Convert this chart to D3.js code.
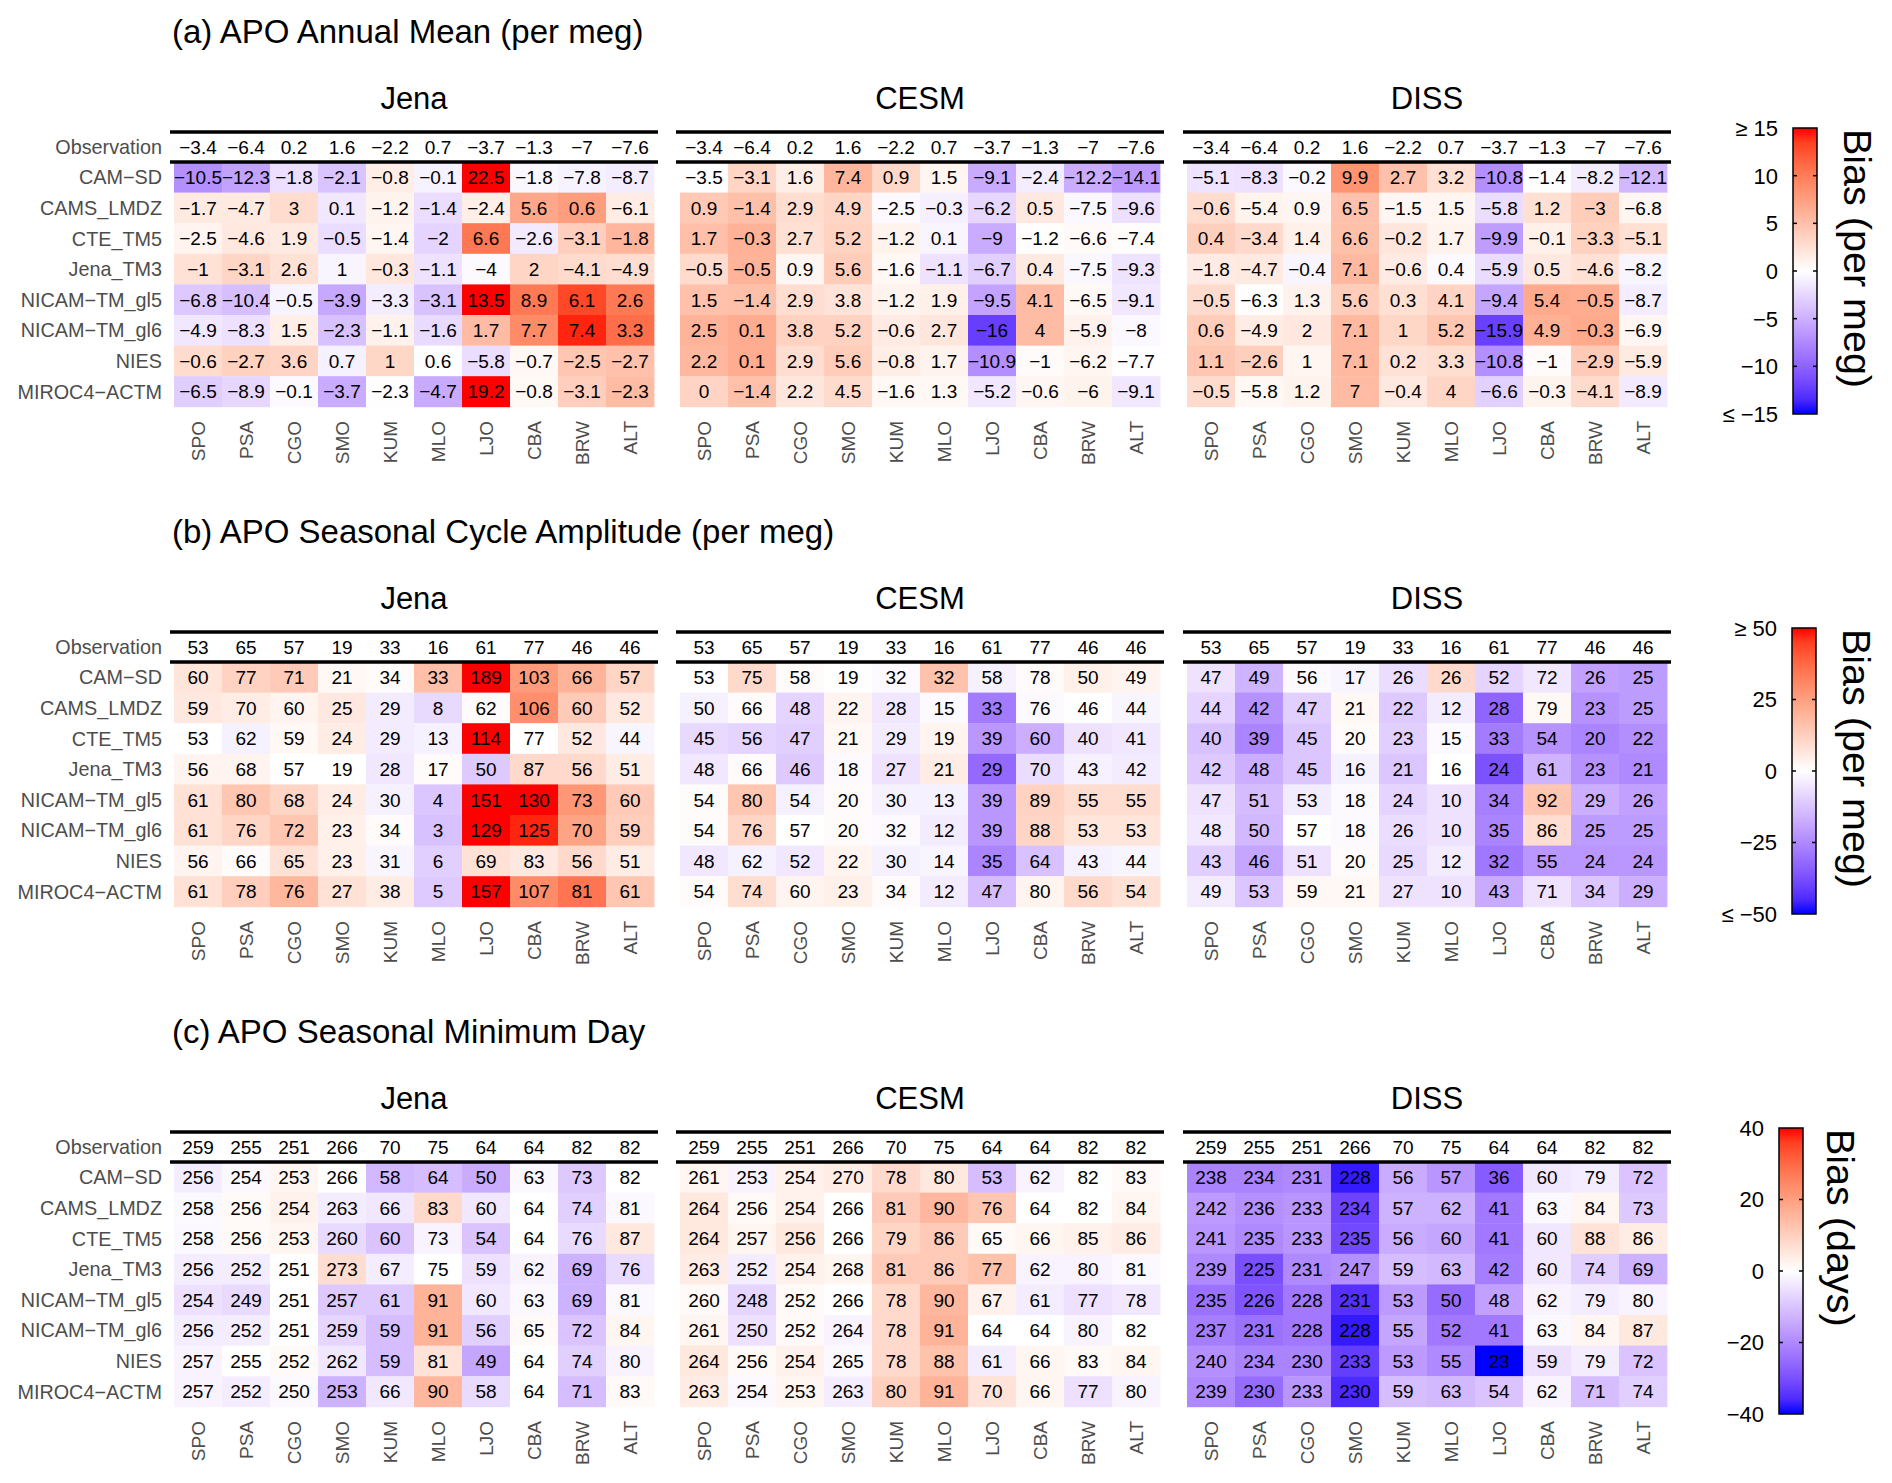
<!DOCTYPE html>
<html>
<head>
<meta charset="utf-8">
<script src="https://cdn.jsdelivr.net/npm/d3@7"></script>
<style>
  body { margin: 0; background: #fff; }
</style>
</head>
<body>
<svg id="chart"></svg>
<script>
// Stations, models and ocean-flux products
const stations = ["SPO", "PSA", "CGO", "SMO", "KUM", "MLO", "LJO", "CBA", "BRW", "ALT"];
const models = ["CAM-SD", "CAMS_LMDZ", "CTE_TM5", "Jena_TM3", "NICAM-TM_gl5", "NICAM-TM_gl6", "NIES", "MIROC4-ACTM"];
const oceans = ["Jena", "CESM", "DISS"];

// (a) APO annual mean (per meg)
const meanObs = [-3.4, -6.4, 0.2, 1.6, -2.2, 0.7, -3.7, -1.3, -7, -7.6];
const meanJena = [
  [-10.5, -12.3, -1.8, -2.1, -0.8, -0.1, 22.5, -1.8, -7.8, -8.7],
  [-1.7, -4.7, 3, 0.1, -1.2, -1.4, -2.4, 5.6, 0.6, -6.1],
  [-2.5, -4.6, 1.9, -0.5, -1.4, -2, 6.6, -2.6, -3.1, -1.8],
  [-1, -3.1, 2.6, 1, -0.3, -1.1, -4, 2, -4.1, -4.9],
  [-6.8, -10.4, -0.5, -3.9, -3.3, -3.1, 13.5, 8.9, 6.1, 2.6],
  [-4.9, -8.3, 1.5, -2.3, -1.1, -1.6, 1.7, 7.7, 7.4, 3.3],
  [-0.6, -2.7, 3.6, 0.7, 1, 0.6, -5.8, -0.7, -2.5, -2.7],
  [-6.5, -8.9, -0.1, -3.7, -2.3, -4.7, 19.2, -0.8, -3.1, -2.3]
];
const meanCESM = [
  [-3.5, -3.1, 1.6, 7.4, 0.9, 1.5, -9.1, -2.4, -12.2, -14.1],
  [0.9, -1.4, 2.9, 4.9, -2.5, -0.3, -6.2, 0.5, -7.5, -9.6],
  [1.7, -0.3, 2.7, 5.2, -1.2, 0.1, -9, -1.2, -6.6, -7.4],
  [-0.5, -0.5, 0.9, 5.6, -1.6, -1.1, -6.7, 0.4, -7.5, -9.3],
  [1.5, -1.4, 2.9, 3.8, -1.2, 1.9, -9.5, 4.1, -6.5, -9.1],
  [2.5, 0.1, 3.8, 5.2, -0.6, 2.7, -16, 4, -5.9, -8],
  [2.2, 0.1, 2.9, 5.6, -0.8, 1.7, -10.9, -1, -6.2, -7.7],
  [0, -1.4, 2.2, 4.5, -1.6, 1.3, -5.2, -0.6, -6, -9.1]
];
const meanDISS = [
  [-5.1, -8.3, -0.2, 9.9, 2.7, 3.2, -10.8, -1.4, -8.2, -12.1],
  [-0.6, -5.4, 0.9, 6.5, -1.5, 1.5, -5.8, 1.2, -3, -6.8],
  [0.4, -3.4, 1.4, 6.6, -0.2, 1.7, -9.9, -0.1, -3.3, -5.1],
  [-1.8, -4.7, -0.4, 7.1, -0.6, 0.4, -5.9, 0.5, -4.6, -8.2],
  [-0.5, -6.3, 1.3, 5.6, 0.3, 4.1, -9.4, 5.4, -0.5, -8.7],
  [0.6, -4.9, 2, 7.1, 1, 5.2, -15.9, 4.9, -0.3, -6.9],
  [1.1, -2.6, 1, 7.1, 0.2, 3.3, -10.8, -1, -2.9, -5.9],
  [-0.5, -5.8, 1.2, 7, -0.4, 4, -6.6, -0.3, -4.1, -8.9]
];

// (b) APO seasonal cycle amplitude (per meg)
const ampObs = [53, 65, 57, 19, 33, 16, 61, 77, 46, 46];
const ampJena = [
  [60, 77, 71, 21, 34, 33, 189, 103, 66, 57],
  [59, 70, 60, 25, 29, 8, 62, 106, 60, 52],
  [53, 62, 59, 24, 29, 13, 114, 77, 52, 44],
  [56, 68, 57, 19, 28, 17, 50, 87, 56, 51],
  [61, 80, 68, 24, 30, 4, 151, 130, 73, 60],
  [61, 76, 72, 23, 34, 3, 129, 125, 70, 59],
  [56, 66, 65, 23, 31, 6, 69, 83, 56, 51],
  [61, 78, 76, 27, 38, 5, 157, 107, 81, 61]
];
const ampCESM = [
  [53, 75, 58, 19, 32, 32, 58, 78, 50, 49],
  [50, 66, 48, 22, 28, 15, 33, 76, 46, 44],
  [45, 56, 47, 21, 29, 19, 39, 60, 40, 41],
  [48, 66, 46, 18, 27, 21, 29, 70, 43, 42],
  [54, 80, 54, 20, 30, 13, 39, 89, 55, 55],
  [54, 76, 57, 20, 32, 12, 39, 88, 53, 53],
  [48, 62, 52, 22, 30, 14, 35, 64, 43, 44],
  [54, 74, 60, 23, 34, 12, 47, 80, 56, 54]
];
const ampDISS = [
  [47, 49, 56, 17, 26, 26, 52, 72, 26, 25],
  [44, 42, 47, 21, 22, 12, 28, 79, 23, 25],
  [40, 39, 45, 20, 23, 15, 33, 54, 20, 22],
  [42, 48, 45, 16, 21, 16, 24, 61, 23, 21],
  [47, 51, 53, 18, 24, 10, 34, 92, 29, 26],
  [48, 50, 57, 18, 26, 10, 35, 86, 25, 25],
  [43, 46, 51, 20, 25, 12, 32, 55, 24, 24],
  [49, 53, 59, 21, 27, 10, 43, 71, 34, 29]
];

// (c) APO seasonal minimum day
const minDayObs = [259, 255, 251, 266, 70, 75, 64, 64, 82, 82];
const minDayJena = [
  [256, 254, 253, 266, 58, 64, 50, 63, 73, 82],
  [258, 256, 254, 263, 66, 83, 60, 64, 74, 81],
  [258, 256, 253, 260, 60, 73, 54, 64, 76, 87],
  [256, 252, 251, 273, 67, 75, 59, 62, 69, 76],
  [254, 249, 251, 257, 61, 91, 60, 63, 69, 81],
  [256, 252, 251, 259, 59, 91, 56, 65, 72, 84],
  [257, 255, 252, 262, 59, 81, 49, 64, 74, 80],
  [257, 252, 250, 253, 66, 90, 58, 64, 71, 83]
];
const minDayCESM = [
  [261, 253, 254, 270, 78, 80, 53, 62, 82, 83],
  [264, 256, 254, 266, 81, 90, 76, 64, 82, 84],
  [264, 257, 256, 266, 79, 86, 65, 66, 85, 86],
  [263, 252, 254, 268, 81, 86, 77, 62, 80, 81],
  [260, 248, 252, 266, 78, 90, 67, 61, 77, 78],
  [261, 250, 252, 264, 78, 91, 64, 64, 80, 82],
  [264, 256, 254, 265, 78, 88, 61, 66, 83, 84],
  [263, 254, 253, 263, 80, 91, 70, 66, 77, 80]
];
const minDayDISS = [
  [238, 234, 231, 228, 56, 57, 36, 60, 79, 72],
  [242, 236, 233, 234, 57, 62, 41, 63, 84, 73],
  [241, 235, 233, 235, 56, 60, 41, 60, 88, 86],
  [239, 225, 231, 247, 59, 63, 42, 60, 74, 69],
  [235, 226, 228, 231, 53, 50, 48, 62, 79, 80],
  [237, 231, 228, 228, 55, 52, 41, 63, 84, 87],
  [240, 234, 230, 233, 53, 55, 23, 59, 79, 72],
  [239, 230, 233, 230, 59, 63, 54, 62, 71, 74]
];

// Titles, colour limits and legend ticks
const titles = ["(a) APO Annual Mean (per meg)", "(b) APO Seasonal Cycle Amplitude (per meg)", "(c) APO Seasonal Minimum Day"];
const limits = [15, 50, 40];
const legendTitles = ["Bias (per meg)", "Bias (per meg)", "Bias (days)"];
const tickValues = [[15, 10, 5, 0, -5, -10, -15], [50, 25, 0, -25, -50], [40, 20, 0, -20, -40]];
const tickLabels = [["≥ 15", "10", "5", "0", "−5", "−10", "≤ −15"], ["≥ 50", "25", "0", "−25", "≤ −50"], ["40", "20", "0", "−20", "−40"]];

const panels = [
  { obs: meanObs, sets: [meanJena, meanCESM, meanDISS] },
  { obs: ampObs, sets: [ampJena, ampCESM, ampDISS] },
  { obs: minDayObs, sets: [minDayJena, minDayCESM, minDayDISS] }
];

// layout
const width = 1892;
const height = 1483;
const font = "'Liberation Sans', Arial, Helvetica, sans-serif";
const grey = "#4d4d4d";
const blockX = [174, 680, 1187];
const blockW = 480;
const firstTop = 132;
const panelStep = 500;
const obsH = 30;
const rowH = 30.6;
const barX = [1793, 1792, 1779];
const barW = 24;
const titleGap = [27, 27, 24];

const fmt = (v) => String(v).replace("-", "−");
const colorRamp = d3.piecewise(d3.interpolateLab, ["blue", "white", "red"]);

const svg = d3
  .select("#chart")
  .attr("width", width)
  .attr("height", height)
  .style("font-family", font);

svg.append("rect").attr("width", width).attr("height", height).attr("fill", "#fff");

const defs = svg.append("defs");

panels.forEach((panel, k) => {
  const top = firstTop + k * panelStep;
  const lim = limits[k];
  const color = d3.scaleDiverging([-lim, 0, lim], colorRamp).clamp(true);
  const g = svg.append("g");

  // panel title
  g.append("text")
    .attr("x", 172)
    .attr("y", top - 89)
    .attr("font-size", 33)
    .attr("fill", "#000")
    .text(titles[k]);

  const y = d3
    .scaleBand()
    .domain(models)
    .range([top + obsH, top + obsH + models.length * rowH]);

  // row labels
  g.append("text")
    .attr("x", 162)
    .attr("y", top + obsH / 2)
    .attr("dy", "0.36em")
    .attr("text-anchor", "end")
    .attr("font-size", 19.8)
    .attr("fill", grey)
    .text("Observation");

  g.selectAll("text.row")
    .data(models)
    .join("text")
    .attr("class", "row")
    .attr("x", 162)
    .attr("y", (d) => y(d) + y.bandwidth() / 2)
    .attr("dy", "0.36em")
    .attr("text-anchor", "end")
    .attr("font-size", 19.8)
    .attr("fill", grey)
    .text((d) => fmt(d));

  oceans.forEach((ocean, j) => {
    const x = d3
      .scaleBand()
      .domain(stations)
      .range([blockX[j], blockX[j] + blockW]);

    const cells = models.flatMap((m, i) =>
      stations.map((s, c) => ({
        m,
        s,
        v: panel.sets[j][i][c],
        bias: panel.sets[j][i][c] - panel.obs[c],
      }))
    );

    const b = g.append("g");

    b.append("text")
      .attr("x", blockX[j] + blockW / 2)
      .attr("y", top - 23)
      .attr("text-anchor", "middle")
      .attr("font-size", 31)
      .attr("fill", "#000")
      .text(ocean);

    b.selectAll("rect")
      .data(cells)
      .join("rect")
      .attr("x", (d) => x(d.s))
      .attr("y", (d) => y(d.m))
      .attr("width", x.bandwidth() + 0.4)
      .attr("height", y.bandwidth() + 0.4)
      .attr("fill", (d) => color(d.bias));

    b.selectAll("text.val")
      .data(cells)
      .join("text")
      .attr("class", "val")
      .attr("x", (d) => x(d.s) + x.bandwidth() / 2)
      .attr("y", (d) => y(d.m) + y.bandwidth() / 2)
      .attr("dy", "0.36em")
      .attr("text-anchor", "middle")
      .attr("font-size", 19)
      .attr("fill", "#000")
      .text((d) => fmt(d.v));

    b.selectAll("text.obs")
      .data(stations)
      .join("text")
      .attr("class", "obs")
      .attr("x", (d) => x(d) + x.bandwidth() / 2)
      .attr("y", top + obsH / 2)
      .attr("dy", "0.36em")
      .attr("text-anchor", "middle")
      .attr("font-size", 19)
      .attr("fill", "#000")
      .text((d, c) => fmt(panel.obs[c]));

    // thick rules above and below the observation row
    b.selectAll("line.rule")
      .data([top, top + obsH])
      .join("line")
      .attr("class", "rule")
      .attr("x1", blockX[j] - 4)
      .attr("x2", blockX[j] + blockW + 4)
      .attr("y1", (d) => d)
      .attr("y2", (d) => d)
      .attr("stroke", "#000")
      .attr("stroke-width", 3.5);

    // station labels
    b.selectAll("text.st")
      .data(stations)
      .join("text")
      .attr("class", "st")
      .attr("transform", (d) => `translate(${x(d) + x.bandwidth() / 2},${top + 289}) rotate(-90)`)
      .attr("dy", "0.36em")
      .attr("text-anchor", "end")
      .attr("font-size", 19)
      .attr("fill", grey)
      .text((d) => d);
  });

  // colour bar
  const barTop = top - 4;
  const barBottom = top + 282;
  const yBar = d3.scaleLinear().domain([-lim, lim]).range([barBottom, barTop]);
  const gradId = `grad${k}`;
  const grad = defs
    .append("linearGradient")
    .attr("id", gradId)
    .attr("x1", 0)
    .attr("x2", 0)
    .attr("y1", 1)
    .attr("y2", 0);
  grad.selectAll("stop")
    .data(d3.range(0, 1.0001, 0.05))
    .join("stop")
    .attr("offset", (d) => d)
    .attr("stop-color", (d) => colorRamp(d));

  const lg = svg.append("g");
  lg.append("rect")
    .attr("x", barX[k])
    .attr("y", barTop)
    .attr("width", barW)
    .attr("height", barBottom - barTop)
    .attr("fill", `url(#${gradId})`)
    .attr("stroke", "#000")
    .attr("stroke-width", 1.5);

  const inner = tickValues[k].filter((v) => Math.abs(v) < lim);
  lg.selectAll("line.tl")
    .data(inner)
    .join("line")
    .attr("class", "tl")
    .attr("x1", barX[k])
    .attr("x2", barX[k] + 4)
    .attr("y1", (d) => yBar(d))
    .attr("y2", (d) => yBar(d))
    .attr("stroke", "#000")
    .attr("stroke-width", 1.5);
  lg.selectAll("line.tr")
    .data(inner)
    .join("line")
    .attr("class", "tr")
    .attr("x1", barX[k] + barW - 4)
    .attr("x2", barX[k] + barW)
    .attr("y1", (d) => yBar(d))
    .attr("y2", (d) => yBar(d))
    .attr("stroke", "#000")
    .attr("stroke-width", 1.5);

  lg.selectAll("text.tick")
    .data(tickValues[k])
    .join("text")
    .attr("class", "tick")
    .attr("x", barX[k] - 15)
    .attr("y", (d) => yBar(d))
    .attr("dy", "0.36em")
    .attr("text-anchor", "end")
    .attr("font-size", 22)
    .attr("fill", "#000")
    .text((d, i) => tickLabels[k][i]);

  lg.append("text")
    .attr("transform", `translate(${barX[k] + barW + titleGap[k]},${barTop + 1}) rotate(90)`)
    .attr("text-anchor", "start")
    .attr("font-size", 39.5)
    .attr("fill", "#000")
    .text(legendTitles[k]);
});
</script>
</body>
</html>
